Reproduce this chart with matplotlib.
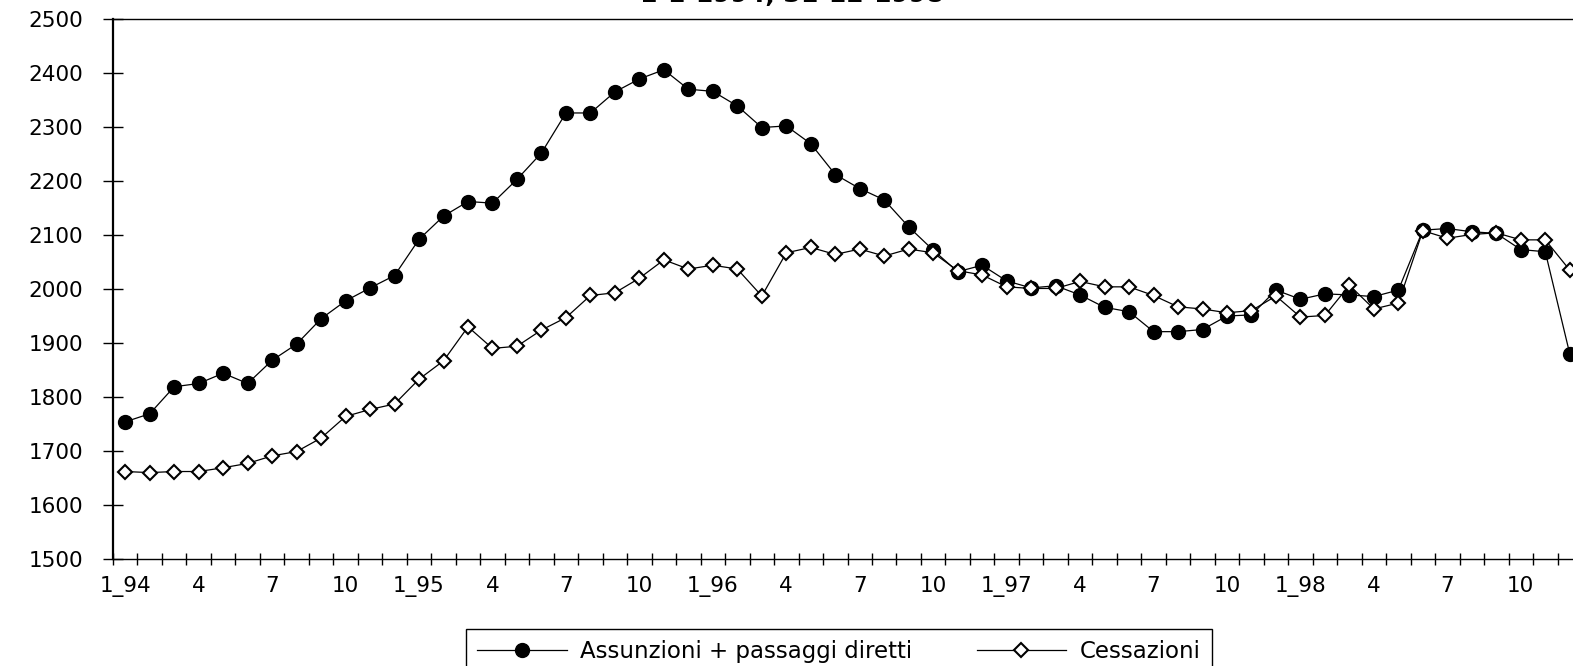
import numpy as np
import matplotlib
matplotlib.use("agg")
import matplotlib.pyplot as plt

# monthly flows, Jan 1994 - Dec 1998
assunzioni = [1754, 1769, 1819, 1825, 1844, 1825, 1868, 1898, 1945, 1978,
	2002, 2025, 2092, 2135, 2162, 2159, 2203, 2252, 2326, 2326,
	2365, 2389, 2406, 2370, 2366, 2339, 2299, 2302, 2269, 2212,
	2186, 2165, 2115, 2072, 2032, 2044, 2015, 2002, 2006, 1989,
	1966, 1958, 1921, 1921, 1925, 1950, 1952, 1998, 1981, 1991,
	1989, 1986, 1998, 2109, 2112, 2106, 2103, 2073, 2069, 1880]

cessazioni = [1662, 1660, 1662, 1662, 1669, 1677, 1691, 1699, 1724, 1764,
	1777, 1787, 1833, 1867, 1930, 1890, 1894, 1924, 1947, 1988,
	1993, 2020, 2054, 2037, 2044, 2037, 1987, 2067, 2077, 2064,
	2074, 2061, 2074, 2067, 2034, 2026, 2004, 2001, 2001, 2014,
	2004, 2004, 1988, 1967, 1963, 1956, 1960, 1987, 1948, 1951,
	2007, 1963, 1974, 2108, 2094, 2101, 2104, 2091, 2091, 2035]

tickLabels = ["1_94", "4", "7", "10", "1_95", "4", "7", "10", "1_96", "4",
	"7", "10", "1_97", "4", "7", "10", "1_98", "4", "7", "10"]

titleText = "1-1-1994, 31-12-1998"

W, H = 1573, 666
fs = 15.5

fig = plt.figure(figsize=(W / 100, H / 100), dpi=100)
# plot area runs a bit past the right edge of the figure
ax = fig.add_axes([113 / W, 107 / H, 1469 / W, 540 / H])

months = np.arange(len(assunzioni))
ax.plot(months, assunzioni, color="black", lw=0.9, marker="o", ms=10,
	mfc="black", mec="black", label="Assunzioni + passaggi diretti", zorder=3)
ax.plot(months, cessazioni, color="black", lw=0.9, marker="D", ms=7.5,
	mfc="white", mec="black", mew=1.5, label="Cessazioni", zorder=4)

ax.set_xlim(-0.5, len(months) - 0.5)
ax.set_ylim(1500, 2500)

ax.set_yticks(range(1500, 2501, 100))
ax.tick_params(axis="y", direction="inout", length=15, width=1, pad=14, labelsize=fs)

ax.set_xticks(range(0, len(months), 3))
ax.set_xticklabels(tickLabels)
ax.set_xticks(np.arange(-0.5, len(months), 1), minor=True)
ax.tick_params(axis="x", which="major", length=0, pad=12, labelsize=fs)
ax.tick_params(axis="x", which="minor", direction="inout", length=8, width=1)

ax.spines["right"].set_visible(False)
ax.spines["left"].set_linewidth(1.6)
ax.spines["bottom"].set_linewidth(1.0)
ax.spines["top"].set_linewidth(1.0)

# title sits mostly above the canvas, only its lower edge shows
fig.text(792 / W, 1 - 1.8 / H, titleText, ha="center", va="baseline",
	fontsize=18, fontweight="bold")

leg = fig.legend(loc="upper center", bbox_to_anchor=(839 / W, 1 - 629 / H),
	ncol=2, fontsize=16.5, frameon=True, fancybox=False, edgecolor="black",
	framealpha=1, borderaxespad=0, handlelength=3.9, handletextpad=0.6,
	columnspacing=2.8, borderpad=0.5)
leg.get_frame().set_linewidth(1.0)

plt.savefig("out.png", dpi=100)
